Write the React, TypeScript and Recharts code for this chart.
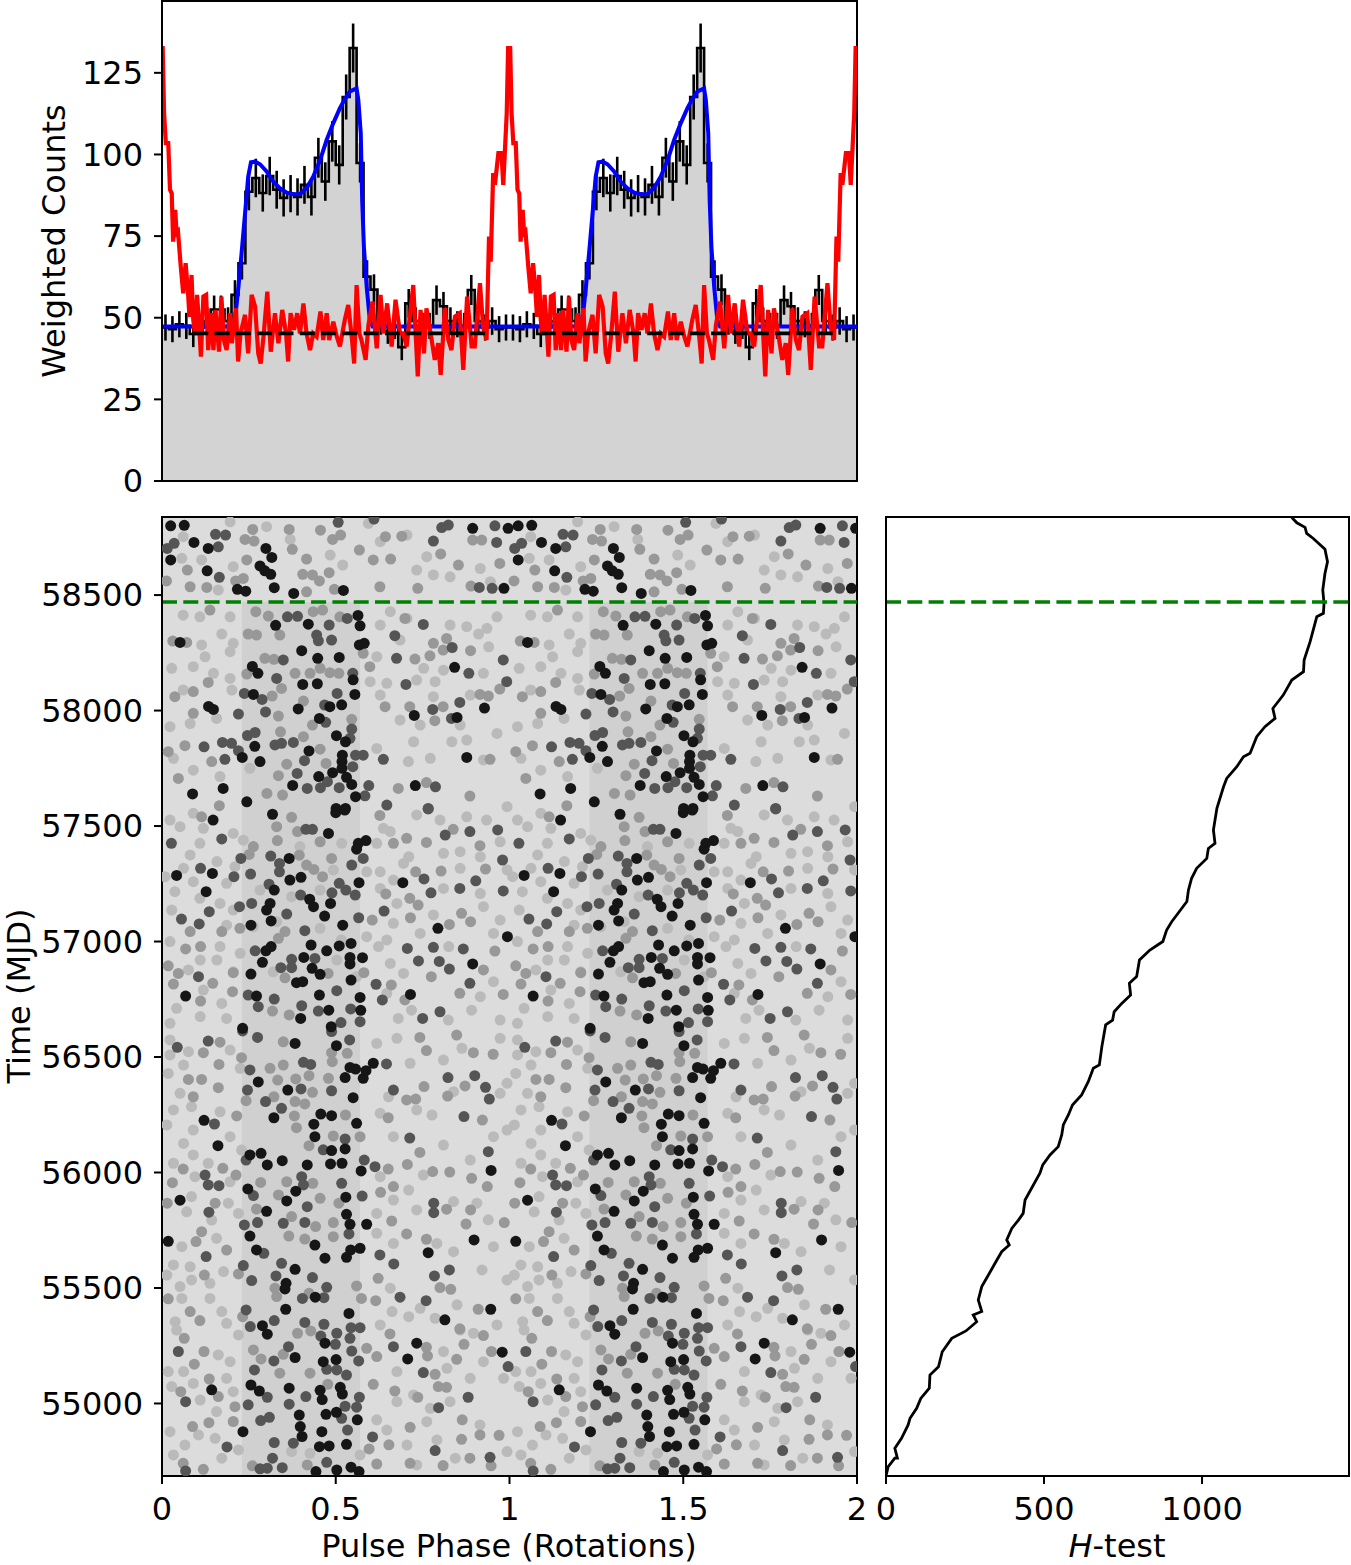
import React from 'react';
import { ComposedChart, ScatterChart, Area, Line, Scatter, ErrorBar, XAxis, YAxis, ReferenceArea, ReferenceLine } from 'recharts';

const FONT = '"DejaVu Sans", sans-serif';
const FS = 32;

const histCounts = [47,46.5,48,47.5,45,47,49,52.5,52.5,49,57,66.7,88.6,92.8,88.2,93.4,89.2,86.7,88,87,90.7,87,99,91.7,104,96.8,117.6,132.6,97.4,62.6,58.6,49,46,47.5,41,54.4,49,47.5,47.5,55.4,53.5,49,48,47.5,58.5,49,47,49,46.5,47];
const histErrors = [4,4,4,4,4,4,4.2,4.3,4.3,4.2,4.5,5,5.7,5.9,5.7,5.9,5.8,5.7,5.7,5.7,5.8,5.7,6.1,5.9,6.2,6,6.9,7.5,6,5,4.7,4.2,4,4,4,4.4,4.2,4,4,4.5,4.4,4.2,4,4,4.6,4.2,4,4.2,4,4];

const bluePhase = [0,.205,.213,.220,.229,.239,.248,.256,.268,.282,.301,.320,.339,.359,.378,.397,.416,.435,.455,.474,.493,.512,.526,.541,.560,.565,.572,.576,.581,.589,.598,.606,.999];
const blueCounts = [47.3,47.3,52.4,59.5,69.8,82,93.2,97.6,97.8,97,94.8,91.7,89.7,88.3,87.8,87.9,89.7,93.2,98.3,104.5,109.6,114.2,116.9,119.3,120.2,116.7,106.5,86.1,71.8,59.5,49.3,47.3,47.3];

const redPhase = [0,.002,.006,.011,.018,.023,.028,.032,.038,.042,.046,.054,.061,.068,.075,.079,.085,.090,.095,.101,.107,.112,.119,.127,.133,.141,.148,.154,.164,.171,.178,.186,.196,.201,.213,.219,.226,.239,.248,.258,.268,.277,.284,.293,.303,.313,.325,.335,.346,.357,.363,.370,.380,.389,.397,.407,.416,.426,.435,.445,.456,.464,.474,.481,.493,.503,.512,.526,.536,.546,.553,.560,.568,.574,.586,.594,.606,.618,.629,.637,.648,.661,.672,.685,.694,.704,.723,.736,.744,.754,.761,.776,.785,.795,.802,.814,.824,.833,.843,.857,.867,.878,.891,.900,.915,.924,.934,.941,.946,.953,.958,.968,.977,.982,.992,.996];
const redCounts = [132.6,132.6,112.6,103.5,103.5,89.2,88.1,73.3,83,75.9,76.4,65.7,57.5,66.7,57.5,50.3,63.1,49.3,45.2,57,47.3,38.1,56.5,57,40.1,51.4,40.1,52.4,39.6,56.5,43.2,40.1,51.4,42.2,52.9,36.6,45.2,50.9,39.1,57,53.4,39.1,36,45.2,58,39.6,51.4,42.2,52.4,45.2,36.6,51.4,46.3,51.4,45.2,54.4,45.2,40.1,45.2,44.2,51.9,43.2,51.4,43.2,48.8,44.2,41.2,49.3,53.9,44.2,36,60,45.2,43.2,37.1,47.8,54.9,40.6,57,45.2,54.4,41.2,55.5,45.2,45.2,41.2,60,32,52.4,39.1,52.9,43.2,37.1,42.2,32.5,52.9,43.2,40.1,50.3,51.4,34,56.5,41.2,41.2,60.6,47.3,43.2,74.9,67.2,94.3,90.7,100.4,100.4,90.7,112.6,132.6];

const baselineCount = 45.2;
const baselineSpans = [[.09,.95],[1.09,1.935]];
const countTicks = [0,25,50,75,100,125];
const phaseTicks = [0,.5,1,1.5,2];
const timeTicks = [55000,55500,56000,56500,57000,57500,58000,58500];
const hTicks = [0,500,1000];
const switchMjd = 58470;

const htestValues = [0,7,28,36,28,49,70,76,97,110,137,139,166,178,208,253,287,276,303,292,303,324,345,366,390,382,398,419,434,440,487,496,519,545,556,561,577,590,619,640,656,675,683,695,717,722,746,774,770,793,802,835,876,888,904,952,957,967,983,1015,1020,1041,1036,1047,1068,1078,1110,1131,1152,1173,1199,1231,1224,1257,1284,1321,1323,1342,1363,1384,1386,1382,1389,1397,1389,1352,1331,1326,1300,1284];
const htestTimes = [54686,54727,54763,54763,54806,54849,54907,54936,54979,55022,55066,55123,55159,55224,55282,55314,55354,55383,55398,55448,55506,55556,55607,55657,55686,55708,55758,55794,55823,55881,55997,56033,56076,56112,56163,56206,56249,56292,56336,56393,56451,56466,56545,56639,56660,56696,56732,56769,56819,56848,56920,56963,57000,57050,57086,57173,57223,57274,57317,57360,57403,57425,57483,57577,57670,57706,57757,57800,57815,57887,57930,57966,58009,58067,58132,58168,58219,58298,58406,58421,58464,58522,58594,58644,58698,58745,58767,58793,58813,58836];

// phase, MJD pairs, one rotation (the plot repeats it)
const blackDots = [.025,58800,.064,58802,.894,58789,.996,58789,.092,58728,.133,58702,.299,58702,.316,58663,.025,58652,.130,58605,.282,58626,.296,58605,.313,58590,.323,58532,.217,58525,.241,58517,.379,58507,.522,58520,.984,58529,.052,58295,.327,58369,.421,58374,.564,58412,.570,58367,.568,58284,.582,58291,.402,58259,.448,58226,.510,58230,.260,58191,.276,58161,.842,58187,.405,58113,.447,58116,.550,58133,.263,58070,.555,58070,.134,58018,.148,58005,.392,58007,.483,58017,.517,58025,.726,57979,.928,58011,.849,57970,.453,57966,.502,57891,.528,57865,.267,57845,.423,57825,.231,57797,.282,57779,.519,57807,.518,57779,.518,57750,.877,57797,.491,57731,.451,57714,.531,57711,.546,57680,.557,57627,.376,57676,.176,57663,.088,57639,.729,57675,.244,57605,.501,57576,.528,57576,
.318,57551,.500,57558,.526,57569,.147,57526,.479,57468,.587,57437,.565,57425,.560,57400,.366,57360,.042,57286,.145,57295,.693,57255,.400,57278,.368,57266,.567,57255,.323,57223,.127,57216,.436,57151,.485,57165,.425,57183,.301,57136,.311,57165,.468,57110,.520,57071,.314,57089,.256,57071,.794,57057,.994,57021,.429,56985,.510,56981,.544,56992,.299,56960,.314,56978,.474,56960,.408,56931,.289,56910,.541,56931,.541,56903,.577,56930,.256,56859,.455,56858,.432,56884,.544,56833,.894,56903,.715,56771,.068,56764,.272,56764,.453,56768,.570,56758,.480,56703,.572,56702,.232,56624,.487,56631,.399,56667,.387,56822,.405,56826,
.383,56559,.502,56549,.277,56392,.362,56357,.608,56473,.579,56408,.587,56441,.557,56448,.541,56455,.527,56411,.550,56324,.322,56237,.457,56253,.488,56246,.560,56213,.437,56209,.121,56226,.440,56155,.161,56116,.527,56102,.488,56095,.253,56076,.285,56083,.346,56051,.303,56033,.418,56033,.485,56037,.518,56040,.573,56007,.947,56009,.247,55929,.385,55919,.052,55880,.359,55877,.529,55893,.301,55832,.531,55819,.589,55776,.541,55776,.018,55702,.898,55708,.253,55725,.440,55686,.570,55672,.543,55665,.766,55653,.469,55629,.531,55633,.272,55665,
.383,55581,.357,55520,.354,55496,.441,55460,.356,55408,.538,55390,.946,55408,.814,55362,.289,55337,.303,55300,.469,55261,.733,55261,.979,55222,.383,55199,.464,55181,.501,55190,.707,55193,.256,55080,.280,55054,.143,55059,.366,55066,.455,55057,.513,55070,.519,55041,.461,55017,.395,54950,.472,54953,.502,54962,.562,54929,.398,54900,.233,54878,.460,54878,.403,54857,.453,54813,.481,54816,.531,54823,.443,54705,.503,54712,.544,54724,.567,54705];

const darkDots = [.507,58815,.958,58800,.805,58792,.824,58803,.154,58763,.183,58760,.162,58709,.165,58577,.035,58724,.015,58702,.950,58529,.913,58533,.963,58728,.781,58734,.610,58829,.390,58408,.445,58327,.450,58302,.330,58139,.549,58161,.883,58161,.237,58074,.288,58048,.504,58074,.857,58035,.468,58024,.220,57985,.298,57994,.833,57966,.779,58005,.471,57949,.546,57920,.246,57892,.268,57905,.541,57880,.174,57862,.121,57843,.200,57858,.325,57851,.344,57858,.378,57862,.220,57826,.181,57789,.557,57807,.549,57757,.579,57807,.410,57783,.637,57789,.584,57631,.389,57728,.418,57663,.476,57692,.456,57666,.510,57666,.595,57675,.787,57670,.766,57576,.670,58324,.835,58273,.752,58373,.982,58219,.702,58113,.675,58226,.533,58399,.361,58406,.481,58370,.488,58305,.992,58125,.349,58219,
.027,57425,.414,57486,.433,57486,.172,57444,.227,57360,.338,57338,.338,57302,.313,57370,.255,57292,.111,57317,.207,57281,.308,57248,.489,57211,.529,57223,.556,57201,.510,57252,.546,57331,.579,57360,.399,57201,.223,57151,.258,57165,.136,57129,.359,57119,.566,57103,.107,57076,.056,57097,.411,57047,.815,57461,.886,57476,.966,57483,.766,57574,.647,57591,.754,57271,.857,57230,.903,57263,.774,57211,.268,56960,.373,56923,.440,56927,.342,56887,.373,56887,.738,56916,.798,56914,.827,56881,.867,56968,.706,56970,.781,56975,.886,56819,.616,56815,.105,56848,.634,56747,.503,56787,.323,56751,.248,56768,.277,56718,.450,56699,.402,56722,.543,56708,.515,56649,.570,56653,.800,56696,.750,56667,.639,57132,.982,57219,.980,57353,
.133,56569,.232,56613,.275,56585,.488,56610,.540,56574,.044,56542,.253,56444,.407,56477,.428,56468,.646,56470,.400,56362,.246,56357,.488,56354,.666,56357,.823,56411,.900,56419,.931,56369,.942,56318,.298,56307,.344,56278,.151,56210,.869,56242,.713,56149,.464,56098,.527,56145,.242,56054,.582,56054,.613,56025,.939,56090,.124,55989,.133,55946,.164,55943,.402,55982,.407,55946,.517,55953,.263,55900,.576,55898,.135,55828,.418,55852,.349,55780,.275,55783,.411,55784,.237,55773,.538,55734,.293,55650,.627,55643,.782,55867,.782,55826,.127,55636,
.234,55597,.344,55607,.433,55545,.667,55604,.784,55552,.827,55578,.328,55552,.258,55532,.474,55503,.466,55458,.404,55455,.685,55460,.760,55445,.242,55405,.254,55333,.323,55359,.411,55351,.466,55343,.570,55328,.544,55328,.503,55304,.457,55292,.364,55246,.499,55256,.541,55282,.546,55227,.047,55225,.666,55246,.322,55184,.566,55184,.474,55148,.503,55145,.531,55123,.752,55134,.996,55160,.266,55145,.303,55027,.414,55030,.568,55027,.881,55027,.068,55008,.248,54994,.366,54997,.527,54988,.560,54984,.796,54982,.284,54926,.309,54940,.517,54936,.534,54885,.606,54855,.323,54831,.378,54828,.187,54812,.786,54796,.944,54767,.346,54722,.282,54717,.303,54720,.474,54745,.068,54708,.318,54763];

const midDots = [.239,58741,.265,58734,.375,58698,.416,58656,.244,58652,.073,58608,.405,58590,.433,58587,.481,58597,.453,58561,.234,58572,.212,58561,.013,58561,.129,58533,.081,58536,.416,58514,.496,58525,.627,58536,.736,58529,.889,58539,.643,58753,.690,58755,.802,58678,.853,58630,.972,58637,.894,58738,.920,58738,.608,58652,.658,58656,.568,58695,.491,58741,.514,58760,.456,58781,.366,58784,.261,58784,.138,58435,.270,58428,.306,58409,.435,58428,.462,58435,.512,58406,.272,58327,.339,58327,.248,58331,.031,58301,.071,58295,.296,58226,.322,58222,.244,58158,.383,58161,.426,58161,.455,58183,.483,58164,.509,58161,.598,58190,.579,58248,.728,58223,.771,58237,.809,58262,.888,58259,.781,58291,.819,58312,.699,58399,.133,58122,.090,58082,.037,58060,.344,58096,.407,58041,.317,58063,.915,58070,.939,58063,.972,58093,.642,58017,.713,58017,.809,58017,.090,57988,.785,57956,.335,57976,.433,57937,.546,57962,.341,57908,.407,57887,.066,57848,.018,57822,.455,57833,.143,57779,.359,57768,.472,57771,.944,57789,.335,57718,.047,57706,.680,57663,.761,57688,.886,57630,.302,57641,.347,57634,
.165,57588,.114,57540,.373,57538,.330,57497,.390,57476,.332,57437,.263,57411,.251,57377,.395,57374,.455,57432,.488,57360,.416,57331,.437,57312,.462,57281,.627,57546,.666,57425,.704,57447,.761,57429,.838,57486,.915,57415,.730,57302,.803,57305,.931,57314,.644,57206,.713,57187,.737,57158,.715,57103,.862,57122,.888,57086,.827,57074,.605,57093,.172,57043,.081,57043,.111,56978,.068,56968,.018,56895,.047,56862,.146,56819,.033,56816,.205,56865,.224,57057,.354,57043,.335,57014,.354,56843,.478,56862,.581,56865,.660,56812,.775,56848,.699,56747,.857,56776,.925,56877,.982,56771,.958,56959,.111,56742,.203,56783,.318,56699,.366,56682,
.167,56564,.119,56519,.164,56468,.076,56403,.114,56403,.162,56367,.090,56328,.229,56497,.349,56566,.488,56519,.533,56516,.490,56480,.349,56465,.311,56451,.333,56400,.385,56405,.423,56419,.479,56408,.433,56347,.383,56307,.411,56297,.322,56328,.242,56311,.215,56245,.381,56245,.387,56194,.528,56249,.570,56155,.493,56158,.423,56116,.704,56314,.730,56318,.761,56528,.742,56585,.848,56595,.896,56519,.953,56512,.754,56372,.872,56375,.822,56331,.922,56227,.651,56237,.742,56087,.706,56035,.651,56015,.779,56004,.828,56002,.891,55975,.666,55939,.629,55914,.936,55939,.175,56018,.061,56015,.030,55956,.213,55989,.284,55957,.359,55960,.434,55953,.335,55903,.455,55888,.509,55867,.153,55867,.015,55867,.272,55842,.373,55809,.442,55766,.493,55783,.114,55744,.098,55701,.186,55664,.365,55725,.411,55712,.493,55722,.661,55790,.875,55777,.985,55783,.704,55734,.761,55711,.819,55841,.888,55838,
.122,55556,.220,55561,.325,55499,.330,55463,.423,55477,.560,55509,.622,55542,.574,55455,.615,55445,.800,55502,.831,55494,.910,55408,.857,55323,.018,55453,.081,55398,.109,55359,.232,55376,.064,55282,.121,55225,.263,55232,.285,55193,.349,55213,.390,55304,.428,55314,.589,55239,.618,55203,.656,55301,.764,55206,.761,55243,.869,55256,.925,55294,.948,55225,.848,55191,.786,55126,.608,55083,.136,55106,.162,55030,.093,55170,.054,55051,.210,54986,.135,54917,.088,54900,.205,54922,.339,55131,.426,55131,.477,55083,.670,55054,.736,55027,.795,55073,.819,55070,.864,54929,.714,54897,.915,54864,.970,54862,.862,54845,.653,54821,.596,54803,.886,54763,.714,54741,.947,54730,.418,54734,.260,54730,.061,54741,.119,54715,.618,54738,.809,54731];

const paleDots = [.196,58817,.301,58796,.369,58741,.484,58673,.520,58630,.594,58810,.628,58731,.705,58760,.733,58608,.781,58587,.762,58666,.829,58579,.916,58615,.945,58558,.061,58753,.114,58652,.057,58659,.205,58623,.162,58522,.061,58413,.109,58406,.196,58406,.657,58428,.705,58399,.829,58370,.877,58363,.935,58356,.964,58406,.172,58331,.114,58284,.124,58233,.205,58291,.196,58255,.090,58190,.028,58183,.148,58161,.196,58139,.628,58370,.685,58305,.911,58331,.940,58276,.618,58233,.753,58183,.810,58175,.925,58161,.599,58125,.647,58118,.733,58132,.786,58125,.061,58089,.201,58089,.628,58067,.781,58060,.887,58067,.685,57959,.743,57937,.858,57937,.964,57901,.877,57872,.081,57944,.157,57966,.023,57930,.724,57865,.618,57836,.772,57793,.834,57865,.925,57786,.033,57793,.090,57742,.167,57714,.253,57750,.709,57779,
.023,57526,.090,57555,.052,57497,.119,57490,.205,57468,.234,57439,.109,57425,.081,57375,.158,57346,.210,57324,.062,57317,.009,57281,.090,57259,.186,57252,.037,57216,.109,57187,.167,57165,.028,57136,.205,57136,.186,57071,.023,57000,.167,56978,.225,56949,.158,56920,.076,56877,.110,56920,.205,56869,.119,56790,.172,56732,.042,56711,.110,56675,.023,56646,.186,56667,.657,57476,.733,57548,.800,57526,.877,57540,.934,57526,.993,57584,.618,57425,.637,57490,.710,57367,.810,57382,.858,57389,.973,57432,.916,57367,.695,57338,.628,57302,.858,57317,.993,57310,.666,57266,.628,57230,.810,57230,.916,57208,.676,57165,.781,57115,.925,57151,.973,57093,.666,57079,.743,57035,.647,57007,.623,56978,.825,56978,.954,57035,.657,56905,.695,56862,.916,56761,.954,56826,.647,56776,.718,56703,.891,56703,.973,56660,.824,56660,.680,56667,.282,57223,.263,57064,.397,57411,.517,57425,.493,57310,.589,57302,.455,57223,.373,57194,.330,57086,.455,57057,.516,57007,.589,57021,.320,56869,.503,56920,.560,56848,
.023,56574,.076,56523,.023,56509,.196,56530,.062,56465,.225,56451,.018,56429,.052,56343,.085,56285,.033,56271,.167,56263,.014,56206,.090,56184,.196,56155,.062,56126,.229,56097,.090,56076,.133,56040,.033,56040,.095,55982,.196,55960,.085,55896,.191,55867,.071,55830,.220,55823,.143,55794,.057,55679,.157,55715,.618,56559,.676,56581,.714,56473,.810,56487,.863,56538,.973,56581,.652,56328,.839,56350,.993,56386,.973,56343,.628,56256,.733,56271,.777,56249,.993,56184,.666,56155,.810,56119,.954,56155,.887,56054,.628,55982,.752,55989,.710,55924,.839,55874,.666,55881,.906,55867,.733,55838,.618,55823,.939,55795,.618,55737,.666,55693,.791,55693,.839,55657,.954,55679,
.033,55600,.081,55592,.014,55556,.177,55571,.085,55535,.052,55506,.138,55520,.138,55455,.057,55455,.172,55398,.038,55354,.186,55347,.220,55297,.042,55318,.162,55210,.196,55181,.018,55138,.062,55138,.186,55109,.028,55073,.090,55087,.205,55051,.110,55015,.157,54965,.023,54878,.105,54864,.066,54820,.153,54849,.220,54799,.033,54777,.172,54763,.657,55499,.743,55412,.849,55427,.921,55578,.993,55535,.662,55398,.710,55376,.786,55369,.858,55318,.896,55304,.964,55340,.628,55340,.810,55225,.925,55181,.676,55138,.820,55152,.983,55109,.887,55109,.724,55037,.676,55008,.772,54979,.829,55008,.618,54929,.647,54885,.762,54921,.915,54907,.993,54792,.791,54842,.705,54820,.844,54763,.733,54734,.570,54777,.373,54792,.426,54784];

const rotations = [0, 1];
const histRows = rotations.flatMap(r => histCounts.map((c, k) => ({ x: r + k * 0.02, c })));
histRows.push({ x: 2, c: histCounts[histCounts.length - 1] });
const errRows = rotations.flatMap(r => histCounts.map((c, k) => ({ x: r + (k + 0.5) * 0.02, c, e: histErrors[k] })));
const curve = (xs: number[], ys: number[]) => rotations.flatMap(r => xs.map((x, i) => ({ x: r + x, c: ys[i] })));
const blueRows = curve(bluePhase, blueCounts);
blueRows.push({ x: 2, c: 47.3 });
const redRows = curve(redPhase, redCounts);
redRows.push({ x: 2, c: 132.6 });
const dots = (flat: number[]) => {
  const out: { x: number; t: number }[] = [];
  for (let i = 0; i < flat.length; i += 2) {
    for (const r of rotations) out.push({ x: flat[i] + r, t: flat[i + 1] });
  }
  return out;
};
const htestRows = htestValues.map((h, i) => ({ h, t: htestTimes[i] }));

const tickStyle = { fill: '#000', fontSize: FS, fontFamily: FONT };
const axisLine = { stroke: '#000', strokeWidth: 2 };
const TICK = 8;

const Dot = (p: any) => <circle cx={p.cx} cy={p.cy} r={5.5} fill={p.fill} />;

const VTitle = (text: string, x: number, y: number) => () => (
  <text x={x} y={y} transform={`rotate(-90 ${x} ${y})`} textAnchor="middle" fontSize={FS} fontFamily={FONT} fill="#000">{text}</text>
);

export default function App() {
  return (
    <div style={{ position: 'absolute', left: 0, top: 0, width: 1351, height: 1565, background: '#fff', overflow: 'hidden' }}>
      <div style={{ position: 'absolute', left: 0, top: 0 }}>
        <ComposedChart width={870} height={500} margin={{ top: 1, right: 13, bottom: 19, left: 0 }}>
          <XAxis dataKey="x" type="number" domain={[0, 2]} hide allowDataOverflow />
          <YAxis type="number" width={162} domain={[0, 147]} ticks={countTicks} interval={0} tick={tickStyle} tickSize={TICK} tickMargin={11} axisLine={axisLine} tickLine={axisLine} allowDataOverflow
            label={{ content: VTitle('Weighted Counts', 65, 241) }} />
          <Area data={histRows} dataKey="c" type="stepAfter" fill="#d3d3d3" fillOpacity={1} stroke="#000" strokeWidth={2.6} dot={false} activeDot={false} isAnimationActive={false} />
          <Line data={errRows} dataKey="c" stroke="none" dot={false} activeDot={false} isAnimationActive={false}>
            <ErrorBar dataKey="e" direction="y" width={0} stroke="#000" strokeWidth={2.6} isAnimationActive={false} />
          </Line>
          <Line data={blueRows} dataKey="c" type="linear" stroke="#0000ff" strokeWidth={4} dot={false} activeDot={false} isAnimationActive={false} />
          <Line data={redRows} dataKey="c" type="linear" stroke="#ff0000" strokeWidth={4.2} dot={false} activeDot={false} isAnimationActive={false} />
          {baselineSpans.map((s, i) => (
            <ReferenceLine key={i} segment={[{ x: s[0], y: baselineCount }, { x: s[1], y: baselineCount }]} stroke="#000" strokeWidth={3.6} strokeDasharray="15 6.3" isFront ifOverflow="visible" />
          ))}
          <ReferenceArea x1={0} x2={2} y1={0} y2={147} fill="none" stroke="#000" strokeWidth={2} isFront ifOverflow="visible" />
        </ComposedChart>
      </div>

      <div style={{ position: 'absolute', left: 0, top: 500 }}>
        <ScatterChart width={870} height={1065} margin={{ top: 17, right: 13, bottom: 0, left: 0 }}>
          <XAxis dataKey="x" type="number" domain={[0, 2]} ticks={phaseTicks} interval={0} height={89} tick={tickStyle} tickSize={TICK} tickMargin={13} axisLine={axisLine} tickLine={axisLine} allowDataOverflow
            label={{ content: () => <text x={509} y={1057} textAnchor="middle" fontSize={FS} fontFamily={FONT} fill="#000">Pulse Phase (Rotations)</text> }} />
          <YAxis dataKey="t" type="number" width={162} domain={[54686, 58838]} ticks={timeTicks} interval={0} tick={tickStyle} tickSize={TICK} tickMargin={11} axisLine={axisLine} tickLine={axisLine} allowDataOverflow
            label={{ content: VTitle('Time (MJD)', 30, 496) }} />
          <ReferenceArea x1={0} x2={2} y1={54686} y2={58838} fill="#dcdcdc" fillOpacity={1} stroke="none" />
          <ReferenceArea x1={0.23} x2={0.57} y1={54686} y2={58470} fill="#d0d0d0" fillOpacity={1} stroke="none" />
          <ReferenceArea x1={1.23} x2={1.57} y1={54686} y2={58470} fill="#d0d0d0" fillOpacity={1} stroke="none" />
          <Scatter data={dots(paleDots)} fill="#bababa" shape={Dot} isAnimationActive={false} />
          <Scatter data={dots(midDots)} fill="#989898" shape={Dot} isAnimationActive={false} />
          <Scatter data={dots(darkDots)} fill="#555555" shape={Dot} isAnimationActive={false} />
          <Scatter data={dots(blackDots)} fill="#161616" shape={Dot} isAnimationActive={false} />
          <ReferenceLine y={switchMjd} stroke="#008000" strokeWidth={3.6} strokeDasharray="15 6.3" isFront />
          <ReferenceArea x1={0} x2={2} y1={54686} y2={58838} fill="none" stroke="#000" strokeWidth={2} isFront ifOverflow="visible" />
        </ScatterChart>
      </div>

      <div style={{ position: 'absolute', left: 870, top: 500 }}>
        <ComposedChart width={481} height={1065} margin={{ top: 17, right: 2, bottom: 0, left: 0 }}>
          <XAxis dataKey="h" type="number" domain={[0, 1465]} ticks={hTicks} interval={0} height={89} tick={tickStyle} tickSize={TICK} tickMargin={13} axisLine={axisLine} tickLine={axisLine} allowDataOverflow
            label={{ content: () => <text x={247} y={1057} textAnchor="middle" fontSize={FS} fontFamily={FONT} fill="#000"><tspan fontStyle="italic">H</tspan>-test</text> }} />
          <YAxis dataKey="t" type="number" width={16} domain={[54686, 58838]} ticks={timeTicks} interval={0} tick={false} tickSize={TICK} axisLine={axisLine} tickLine={axisLine} allowDataOverflow />
          <Line data={htestRows} dataKey="t" type="linear" stroke="#000" strokeWidth={2.8} dot={false} activeDot={false} isAnimationActive={false} />
          <ReferenceLine y={switchMjd} stroke="#008000" strokeWidth={3.6} strokeDasharray="15 6.3" isFront />
          <ReferenceArea x1={0} x2={1465} y1={54686} y2={58838} fill="none" stroke="#000" strokeWidth={2} isFront ifOverflow="visible" />
        </ComposedChart>
      </div>
    </div>
  );
}
